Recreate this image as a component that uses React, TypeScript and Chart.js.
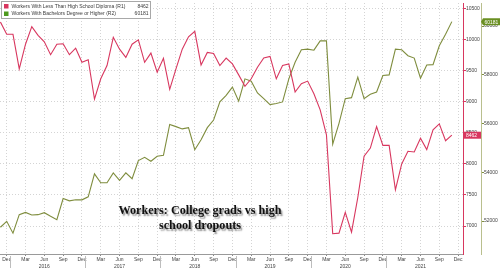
import React, { useEffect, useRef } from 'react';
import { Chart, registerables } from 'chart.js';

Chart.register(...registerables);

// Monthly categories, Nov 2015 .. Dec 2021 (last one is axis-only)
const CATEGORIES: string[] = [
  'Nov 2015', 'Dec 2015',
  'Jan 2016', 'Feb 2016', 'Mar 2016', 'Apr 2016', 'May 2016', 'Jun 2016', 'Jul 2016', 'Aug 2016', 'Sep 2016', 'Oct 2016', 'Nov 2016', 'Dec 2016',
  'Jan 2017', 'Feb 2017', 'Mar 2017', 'Apr 2017', 'May 2017', 'Jun 2017', 'Jul 2017', 'Aug 2017', 'Sep 2017', 'Oct 2017', 'Nov 2017', 'Dec 2017',
  'Jan 2018', 'Feb 2018', 'Mar 2018', 'Apr 2018', 'May 2018', 'Jun 2018', 'Jul 2018', 'Aug 2018', 'Sep 2018', 'Oct 2018', 'Nov 2018', 'Dec 2018',
  'Jan 2019', 'Feb 2019', 'Mar 2019', 'Apr 2019', 'May 2019', 'Jun 2019', 'Jul 2019', 'Aug 2019', 'Sep 2019', 'Oct 2019', 'Nov 2019', 'Dec 2019',
  'Jan 2020', 'Feb 2020', 'Mar 2020', 'Apr 2020', 'May 2020', 'Jun 2020', 'Jul 2020', 'Aug 2020', 'Sep 2020', 'Oct 2020', 'Nov 2020', 'Dec 2020',
  'Jan 2021', 'Feb 2021', 'Mar 2021', 'Apr 2021', 'May 2021', 'Jun 2021', 'Jul 2021', 'Aug 2021', 'Sep 2021', 'Oct 2021', 'Nov 2021', 'Dec 2021',
];

// Workers With Less Than High School Diploma (R1), thousands
const LESS_THAN_HS: number[] = [
  10283, 10086,
  10086, 9529, 9927, 10209, 10070, 9965, 9758, 9927, 9933, 9758, 9863, 9635,
  9678, 9042, 9370, 9583, 10038, 9847, 9715, 9927, 9997, 9635, 9784, 9476,
  9699, 9201, 9529, 9847, 10045, 10134, 9593, 9795, 9779, 9583, 9704, 9609,
  9433, 9249, 9370, 9556, 9704, 9731, 9370, 9583, 9609, 9158, 9290, 9333,
  9130, 8870, 8469, 6877, 6886, 7220, 6902, 7459, 8123, 8255, 8601, 8298,
  8298, 7582, 8000, 8203, 8192, 8414, 8230, 8548, 8644, 8373, 8462,
];

// Workers With Bachelors Degree or Higher (R2), thousands
const BACHELORS: number[] = [
  51748, 51992,
  51505, 52263, 52357, 52251, 52263, 52344, 52195, 52060, 52925, 52831, 52872, 52872,
  52994, 53939, 53574, 53574, 53979, 53671, 53979, 53736, 54482, 54616, 54454, 54657,
  54697, 55967, 55874, 55781, 55833, 54929, 55335, 55833, 56146, 56888, 57160, 57497,
  56917, 57834, 57740, 57253, 57022, 56779, 56820, 56888, 57834, 58511, 59026, 59051,
  59010, 59391, 59391, 55156, 56008, 57022, 57063, 57903, 57022, 57201, 57294, 57972,
  57996, 59051, 59026, 58783, 58686, 57862, 58401, 58418, 59189, 59659, 60181,
];

const R1_TICKS: number[] = [7000, 7500, 8000, 8500, 9000, 9500, 10000, 10500];
const R2_TICKS: number[] = [52000, 54000, 56000, 58000, 60000];
const X_TICK_MONTHS: string[] = ['Dec', 'Mar', 'Jun', 'Sep'];
const YEAR_LABEL_MONTH = 'Jun';

const SERIES_NAMES = [
  'Workers With Less Than High School Diploma (R1)',
  'Workers With Bachelors Degree or Higher (R2)',
];
const TITLE_LINES = ['Workers: College grads vs high', 'school dropouts'];

const PINK = '#d8375f';
const OLIVE = '#7f8d3e';
const GREEN_BOX = '#6a8f22';
const SMALL_FONT = '"Liberation Sans", Arial, sans-serif';

export default function App() {
  const canvasRef = useRef<HTMLCanvasElement | null>(null);

  useEffect(() => {
    const canvas = canvasRef.current;
    if (!canvas) return;

    const overlay = {
      id: 'overlay',
      afterDraw(chart: any) {
        const ctx = chart.ctx;
        const { chartArea } = chart;
        const x = chart.scales.x;
        const y1 = chart.scales.y1;
        const y2 = chart.scales.y2;
        ctx.save();

        // year separators on x axis
        ctx.strokeStyle = '#bdbdbd';
        ctx.lineWidth = 1;
        CATEGORIES.forEach((c, i) => {
          if (c.startsWith('Dec') && i < CATEGORIES.length - 1) {
            const px = Math.round(x.getPixelForValue(i + 0.5)) + 0.5;
            ctx.beginPath();
            ctx.moveTo(px, chartArea.bottom + 2);
            ctx.lineTo(px, chart.height);
            ctx.stroke();
          }
        });

        // last-value boxes
        const lastR1 = LESS_THAN_HS[LESS_THAN_HS.length - 1];
        const lastR2 = BACHELORS[BACHELORS.length - 1];
        ctx.font = `5px ${SMALL_FONT}`;
        ctx.textBaseline = 'middle';
        ctx.textAlign = 'left';
        const py1 = y1.getPixelForValue(lastR1);
        ctx.fillStyle = PINK;
        ctx.fillRect(y1.left, py1 - 3.5, y1.width, 7);
        ctx.fillStyle = '#fff';
        ctx.fillText(String(lastR1), y1.left + 3, py1 + 0.5);

        const py2 = y2.getPixelForValue(lastR2);
        ctx.fillStyle = GREEN_BOX;
        ctx.beginPath();
        ctx.moveTo(y2.left, py2);
        ctx.lineTo(y2.left + 2, py2 - 3.5);
        ctx.lineTo(y2.right, py2 - 3.5);
        ctx.lineTo(y2.right, py2 + 3.5);
        ctx.lineTo(y2.left + 2, py2 + 3.5);
        ctx.closePath();
        ctx.fill();
        ctx.fillStyle = '#fff';
        ctx.fillText(String(lastR2), y2.left + 3.5, py2 + 0.5);

        // legend
        const lx = 1.5, ly = 1.5, lw = 149, lh = 17;
        ctx.fillStyle = '#ffffff';
        ctx.fillRect(lx, ly, lw, lh);
        ctx.strokeStyle = '#a8a8a8';
        ctx.lineWidth = 1;
        ctx.strokeRect(lx, ly, lw, lh);
        const rows = [
          { name: SERIES_NAMES[0], color: PINK, value: String(lastR1) },
          { name: SERIES_NAMES[1], color: '#4e9a1e', value: String(lastR2) },
        ];
        rows.forEach((r, k) => {
          const cy = ly + 5 + k * 7.5;
          ctx.fillStyle = r.color;
          ctx.fillRect(lx + 2.5, cy - 2.5, 4.5, 4.5);
          ctx.fillStyle = '#3a3a3a';
          ctx.textAlign = 'left';
          ctx.fillText(r.name, lx + 10, cy);
          ctx.textAlign = 'right';
          ctx.fillText(r.value, lx + lw - 2, cy);
        });

        // annotation title
        ctx.font = 'bold 12.2px "Liberation Serif", "Times New Roman", serif';
        ctx.textAlign = 'center';
        ctx.textBaseline = 'middle';
        ctx.shadowColor = 'rgba(0,0,0,0.45)';
        ctx.shadowOffsetX = 1.5;
        ctx.shadowOffsetY = 1.5;
        ctx.shadowBlur = 1.5;
        ctx.fillStyle = '#111';
        TITLE_LINES.forEach((t, k) => {
          ctx.fillText(t, 200, 211 + k * 15);
        });
        ctx.restore();
      },
    };

    const chart = new Chart(canvas, {
      type: 'line',
      data: {
        datasets: [
          {
            label: SERIES_NAMES[0],
            data: LESS_THAN_HS.map((v, i) => ({ x: i, y: v })),
            borderColor: PINK,
            borderWidth: 1.1,
            pointRadius: 0,
            tension: 0,
            yAxisID: 'y1',
          },
          {
            label: SERIES_NAMES[1],
            data: BACHELORS.map((v, i) => ({ x: i, y: v })),
            borderColor: OLIVE,
            borderWidth: 1.1,
            pointRadius: 0,
            tension: 0,
            yAxisID: 'y2',
          },
        ],
      },
      options: {
        animation: false,
        responsive: false,
        devicePixelRatio: 1,
        layout: { padding: 0 },
        plugins: {
          legend: { display: false },
          tooltip: { enabled: false },
          title: { display: false },
        },
        scales: {
          x: {
            type: 'linear',
            position: 'bottom',
            min: -0.07,
            max: 73.78,
            afterBuildTicks: (scale: any) => {
              scale.ticks = CATEGORIES.map((c, i) => ({ value: i, c }))
                .filter((t) => X_TICK_MONTHS.includes(t.c.split(' ')[0]))
                .map((t) => ({ value: t.value }));
            },
            afterFit: (scale: any) => {
              scale.height = 14;
            },
            ticks: {
              autoSkip: false,
              maxRotation: 0,
              padding: 0,
              color: '#444',
              font: { size: 5, family: SMALL_FONT, lineHeight: 1.35 },
              callback: (value: any) => {
                const c = CATEGORIES[Math.round(Number(value))];
                if (!c) return '';
                const [m, y] = c.split(' ');
                return m === YEAR_LABEL_MONTH ? [m, y] : m;
              },
            },
            grid: {
              color: '#d4d4d4',
              lineWidth: 1,
              tickLength: 2,
              tickColor: '#888',
              tickBorderDash: [],
            },
            border: { display: true, color: '#9a9a9a', dash: [1, 2] },
          },
          y1: {
            type: 'linear',
            position: 'right',
            min: 6550,
            max: 10590,
            afterBuildTicks: (scale: any) => {
              scale.ticks = R1_TICKS.map((v) => ({ value: v }));
            },
            afterFit: (scale: any) => {
              scale.width = 18;
            },
            ticks: {
              padding: 0,
              color: '#444',
              font: { size: 5, family: SMALL_FONT },
              callback: (v: any) => String(v),
            },
            grid: {
              color: '#d4d4d4',
              tickLength: 3,
              tickColor: PINK,
              tickBorderDash: [],
            },
            border: { display: true, color: PINK, width: 1, dash: [1, 2] },
          },
          y2: {
            type: 'linear',
            position: 'right',
            min: 50650,
            max: 60945,
            afterBuildTicks: (scale: any) => {
              scale.ticks = R2_TICKS.map((v) => ({ value: v }));
            },
            afterFit: (scale: any) => {
              scale.width = 19;
            },
            ticks: {
              padding: 0,
              color: '#444',
              font: { size: 5, family: SMALL_FONT },
              callback: (v: any) => String(v),
            },
            grid: {
              drawOnChartArea: false,
              tickLength: 3,
              tickColor: OLIVE,
              tickBorderDash: [],
            },
            border: { display: true, color: '#b9bf8e', width: 1 },
          },
        },
      },
      plugins: [overlay],
    } as any);

    return () => chart.destroy();
  }, []);

  return (
    <div style={{ position: 'fixed', left: 0, top: 0, width: 500, height: 268, background: '#fff' }}>
      <canvas ref={canvasRef} width={500} height={268} style={{ display: 'block' }} />
    </div>
  );
}
